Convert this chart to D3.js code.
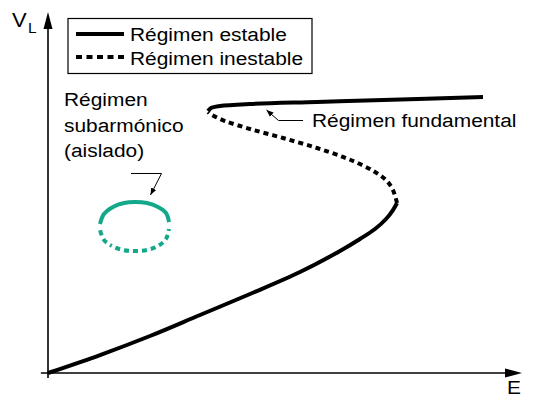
<!DOCTYPE html>
<html><head><meta charset="utf-8">
<script src="https://cdn.jsdelivr.net/npm/d3@7"></script>
<style>body{margin:0;background:#fff}svg{display:block}text{font-family:"Liberation Sans",Arial,sans-serif;fill:#000}</style>
</head><body><svg id="c" width="534" height="398"></svg>
<script>
// Data (E, V_L) in arbitrary units 0..100
const stableLower = [[0,0],[10.97,5.01],[21.52,10.31],[32.07,16.16],[42.62,22.01],[53.16,28.13],[61.60,33.98],[65.82,37.33],[68.99,40.11],[71.31,42.90],[72.78,45.40],[73.63,47.35]];
const unstable = [[73.63,47.35],[72.78,50.97],[71.31,53.76],[68.99,55.99],[65.82,58.22],[62.24,60.17],[56.75,62.67],[49.58,65.46],[42.62,67.97],[37.34,70.19],[34.60,71.87],[33.76,72.70]];
const stableUpper = [[33.76,72.98],[34.39,73.82],[36.29,74.37],[42.62,74.93],[56.75,75.49],[70.68,76.04],[91.77,76.88]];
const subStable = [[10.97,41.50],[11.81,44.29],[13.71,46.24],[16.03,47.35],[18.35,47.63],[20.89,47.35],[23.21,46.24],[24.89,44.57],[25.53,42.06]];
const subUnstable = [[25.53,40.11],[24.89,37.33],[23.21,35.38],[20.89,34.26],[18.35,33.98],[15.82,34.26],[13.50,35.38],[11.81,37.05],[10.97,39.83]];
const legendLabels = ["Régimen estable","Régimen inestable"];
const subLabel = ["Régimen","subarmónico","(aislado)"];
const fundLabel = "Régimen fundamental";
const xLabel = "E", yLabel = "V", ySub = "L";

const svg = d3.select("#c");
const x = d3.scaleLinear().domain([0,100]).range([48,522]);
const y = d3.scaleLinear().domain([0,100]).range([373,14]);
const teal = "#14a88b";
const FS = 19, SX = 1.1;

function txt(s, tx, ty, fs){
  return svg.append("text").attr("transform",`translate(${tx},${ty}) scale(${SX},1)`).attr("font-size",fs||FS).text(s);
}

// axes
const ax = svg.append("g").attr("stroke","#000").attr("stroke-width",1.6);
ax.append("line").attr("x1",x(-1.5)).attr("x2",x(100)-14).attr("y1",y(0)).attr("y2",y(0));
ax.append("line").attr("x1",x(0)).attr("x2",x(0)).attr("y1",y(0)+5).attr("y2",y(100)+14);
svg.append("path").attr("d",`M${x(100)},${y(0)} l-17,-4.5 l0,9 z`).attr("fill","#000");
svg.append("path").attr("d",`M${x(0)},${y(100)-2} l-4.5,17 l9,0 z`).attr("fill","#000");
txt(xLabel, 507, 394, 19);
txt(yLabel, 12, 27, 20);
txt(ySub, 28, 33, 14);

const line = d3.line().x(d=>x(d[0])).y(d=>y(d[1])).curve(d3.curveCatmullRom.alpha(0.5));
svg.append("path").attr("d",line(stableLower)).attr("fill","none").attr("stroke","#000").attr("stroke-width",4);
svg.append("path").attr("d",line(unstable)).attr("fill","none").attr("stroke","#000").attr("stroke-width",4).attr("stroke-dasharray","5,4");
svg.append("path").attr("d",line(stableUpper)).attr("fill","none").attr("stroke","#000").attr("stroke-width",4);
svg.append("path").attr("d",line(subStable)).attr("fill","none").attr("stroke",teal).attr("stroke-width",4);
svg.append("path").attr("d",line(subUnstable)).attr("fill","none").attr("stroke",teal).attr("stroke-width",4).attr("stroke-dasharray","2,4,5,4,5,4,5,4,5,4,5,4,5,4,5,4");

// arrow markers
svg.append("defs").append("marker").attr("id","ah").attr("viewBox","0 0 10 10").attr("refX",10).attr("refY",5)
  .attr("markerWidth",7).attr("markerHeight",7).attr("markerUnits","userSpaceOnUse").attr("orient","auto")
  .append("path").attr("d","M0,1 L10,5 L0,9 z").attr("fill","#000");

// fundamental leader
svg.append("polyline").attr("points",`303,120.5 278.5,120.5 266.5,110`).attr("fill","none").attr("stroke","#000").attr("stroke-width",1).attr("marker-end","url(#ah)");
txt(fundLabel, 312, 127);

// subharmonic label & leader
subLabel.forEach((s,i)=>txt(s, 64, 106+i*25.5));
svg.append("polyline").attr("points",`131,173.5 161.5,173.5 150.5,195`).attr("fill","none").attr("stroke","#000").attr("stroke-width",1).attr("marker-end","url(#ah)");

// legend
svg.append("rect").attr("x",68).attr("y",18.5).attr("width",244).attr("height",55).attr("fill","#fff").attr("stroke","#000").attr("stroke-width",1.2);
svg.append("line").attr("x1",76).attr("x2",124).attr("y1",34).attr("y2",34).attr("stroke","#000").attr("stroke-width",4);
svg.append("line").attr("x1",76).attr("x2",124).attr("y1",57).attr("y2",57).attr("stroke","#000").attr("stroke-width",4).attr("stroke-dasharray","6,4.5");
legendLabels.forEach((s,i)=>txt(s, 130, 41+i*24));
</script></body></html>
